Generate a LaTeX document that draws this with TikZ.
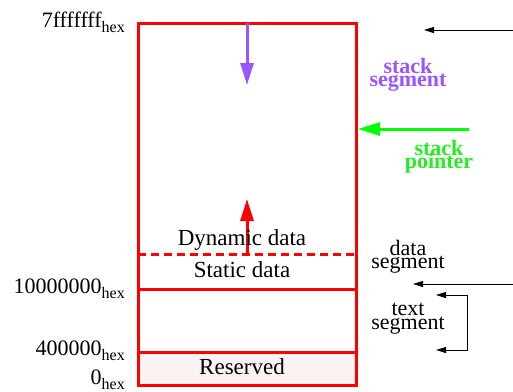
\documentclass[tikz,border=0pt]{standalone}
\usepackage{fontspec}
\setmainfont{Liberation Serif}
\usetikzlibrary{arrows.meta}
\definecolor{boxred}{HTML}{FF0000}
\definecolor{stackpurple}{HTML}{9955FF}
\definecolor{ptrgreen}{HTML}{00FF00}
\definecolor{ptrtext}{HTML}{22EE22}
\definecolor{resfill}{HTML}{FDF2F2}
\newcommand{\hexsub}{\raisebox{-5pt}{\fontsize{16}{16}\selectfont hex}}
\newcommand{\tightskip}{\lineskiplimit=-30pt\relax\lineskip=0pt\relax}
\begin{document}
\begin{tikzpicture}[x=1pt,y=-1pt,
  boxline/.style={draw=boxred,line width=3pt},
  inlabel/.style={inner sep=0pt,anchor=base,font=\fontsize{23}{27}\selectfont},
  addrlabel/.style={inner sep=0pt,anchor=base east,font=\fontsize{22}{26}\selectfont},
  sidelabel/.style={inner sep=0pt,anchor=base,align=center,
    font=\fontsize{22}{13.5}\selectfont\tightskip},
  boldlabel/.style={sidelabel,font=\fontsize{22}{13.5}\selectfont\bfseries\tightskip},
  bigarrow/.style={line width=3pt,-{Triangle[length=22pt,width=13pt]}},
  thinarrow/.style={line width=1pt,-{Triangle[length=10pt,width=6pt]}},
  twoarrow/.style={line width=1pt,{Triangle[length=10pt,width=6pt]}-{Triangle[length=10pt,width=6pt]}}]
\useasboundingbox (0,0) rectangle (513,391);
% memory box
\fill[resfill] (138,352) rectangle (356,385);
\draw[boxline] (138,23) rectangle (356,385);
\draw[boxline] (138,289) -- (356,289);
\draw[boxline] (138,352) -- (356,352);
\draw[boxline,dash pattern=on 8pt off 5pt] (138,254) -- (356,254);
% growth arrows
\coordinate (stkA) at (247,23);
\coordinate (stkB) at (247,85);
\draw[bigarrow,stackpurple] (stkA) -- (stkB);
\coordinate (dynA) at (247,254);
\coordinate (dynB) at (247,199);
\draw[bigarrow,boxred] (dynA) -- (dynB);
% inner labels
\node[inlabel] (dyn) at (242,245) {Dynamic data};
\node[inlabel] (stat) at (242,277) {Static data};
\node[inlabel] (res) at (242,374) {Reserved};
% address labels
\node[addrlabel] (a7) at (125,27) {7fffffff\hexsub};
\node[addrlabel] (a1) at (125,293) {10000000\hexsub};
\node[addrlabel] (a4) at (125,355) {400000\hexsub};
\node[addrlabel] (a0) at (125,384) {0\hexsub};
% right side
\coordinate (topA) at (513,30);
\coordinate (topB) at (424,30);
\draw[thinarrow] (topA) -- (topB);
\node[boldlabel,text=stackpurple] (ss) at (408,86.5) {stack\\segment};
\coordinate (spA) at (469,129);
\coordinate (spB) at (358,129);
\draw[bigarrow,ptrgreen] (spA) -- (spB);
\node[boldlabel,text=ptrtext] (sp) at (439,168.5) {stack\\pointer};
\node[sidelabel] (ds) at (408,268.5) {data\\segment};
\coordinate (dsA) at (513,284);
\coordinate (dsB) at (413,284);
\draw[thinarrow] (dsA) -- (dsB);
\node[sidelabel] (ts) at (408,329) {text\\segment};
\coordinate (brT) at (467,295);
\coordinate (brB) at (467,350);
\coordinate (brTe) at (436,295);
\coordinate (brBe) at (436,350);
\draw[twoarrow] (brTe) -- (brT) -- (brB) -- (brBe);
\end{tikzpicture}
\end{document}
